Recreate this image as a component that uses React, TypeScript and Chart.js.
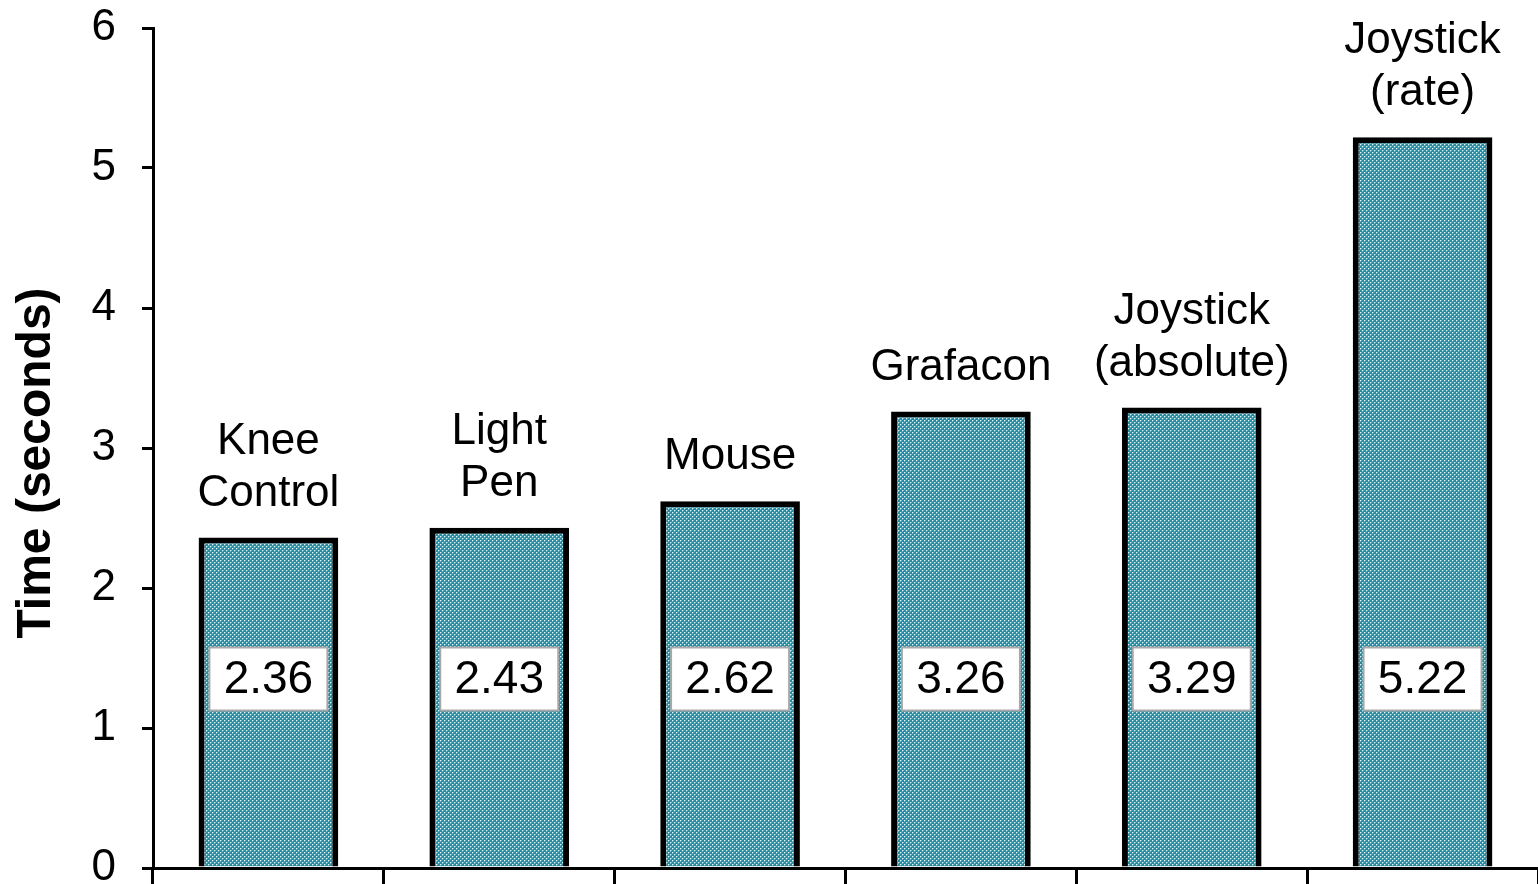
import React, { useEffect, useRef } from "react";
import { Chart, registerables } from "chart.js";

Chart.register(...registerables);

const categoryLines: string[][] = [
  ["Knee", "Control"],
  ["Light", "Pen"],
  ["Mouse"],
  ["Grafacon"],
  ["Joystick", "(absolute)"],
  ["Joystick", "(rate)"],
];
const times: number[] = [2.36, 2.43, 2.62, 3.26, 3.29, 5.22];
const valueLabels: string[] = ["2.36", "2.43", "2.62", "3.26", "3.29", "5.22"];
const yTicks: number[] = [0, 1, 2, 3, 4, 5, 6];
const yTitle = "Time (seconds)";

const FONT = "Arial, 'Liberation Sans', sans-serif";

function makePattern(): CanvasPattern | string {
  const c = document.createElement("canvas");
  c.width = 4;
  c.height = 4;
  const g = c.getContext("2d");
  if (!g) return "#4a9db0";
  g.fillStyle = "#2a8ba1";
  g.fillRect(0, 0, 4, 4);
  g.fillStyle = "#e2f3f6";
  g.fillRect(0, 0, 1, 1);
  g.fillRect(2, 2, 1, 1);
  g.fillStyle = "#6fb7c7";
  g.fillRect(1, 0, 1, 1);
  g.fillRect(3, 2, 1, 1);
  g.fillRect(0, 1, 1, 1);
  g.fillRect(2, 3, 1, 1);
  const p = g.createPattern(c, "repeat");
  return p || "#4a9db0";
}

const labelPlugin = {
  id: "barLabels",
  afterDatasetsDraw(chart: any) {
    const ctx = chart.ctx;
    const meta = chart.getDatasetMeta(0);
    const yScale = chart.scales.y;
    const area = chart.chartArea;
    ctx.save();
    meta.data.forEach((bar: any, i: number) => {
      const x = bar.x;
      ctx.fillStyle = "#000";
      ctx.font = `44px ${FONT}`;
      ctx.textAlign = "center";
      ctx.textBaseline = "middle";
      const lines = categoryLines[i];
      const lh = 52;
      const bottomY = bar.y - 44;
      lines.forEach((ln, k) => {
        ctx.fillText(ln, x, bottomY - (lines.length - 1 - k) * lh);
      });
      const cy = yScale.getPixelForValue(1.35);
      const w = 118;
      const h = 63;
      ctx.fillStyle = "#fff";
      ctx.fillRect(x - w / 2, cy - h / 2, w, h);
      ctx.strokeStyle = "#a8a8a8";
      ctx.lineWidth = 2;
      ctx.strokeRect(x - w / 2, cy - h / 2, w, h);
      ctx.fillStyle = "#000";
      ctx.font = `46px ${FONT}`;
      ctx.fillText(valueLabels[i], x, cy + 1);
    });
    ctx.save();
    ctx.translate(37, (area.top + area.bottom) / 2 + 15);
    ctx.rotate(-Math.PI / 2);
    ctx.font = `bold 48px ${FONT}`;
    ctx.fillStyle = "#000";
    ctx.textAlign = "center";
    ctx.textBaseline = "middle";
    ctx.fillText(yTitle, 0, 0);
    ctx.restore();
    ctx.restore();
  },
};

export default function App() {
  const ref = useRef<HTMLCanvasElement | null>(null);
  useEffect(() => {
    if (!ref.current) return;
    const chart = new Chart(ref.current, {
      type: "bar",
      data: {
        labels: categoryLines.map((l) => l.join(" ")),
        datasets: [
          {
            data: times,
            backgroundColor: makePattern() as any,
            borderColor: "#000",
            borderWidth: 6,
            borderSkipped: "bottom",
            categoryPercentage: 1,
            barPercentage: 0.605,
          },
        ],
      },
      options: {
        responsive: false,
        animation: false,
        devicePixelRatio: 1,
        layout: { padding: { top: 28, right: 0, left: 0, bottom: 0 } },
        plugins: {
          legend: { display: false },
          tooltip: { enabled: false },
        },
        scales: {
          x: {
            grid: {
              display: true,
              drawOnChartArea: false,
              drawTicks: true,
              tickLength: 16,
              color: "#000",
              lineWidth: 3,
              offset: true,
            },
            border: { display: true, color: "#000", width: 3 },
            ticks: { display: false },
            afterFit: (s: any) => {
              s.height = 16;
              s.paddingLeft = 0;
              s.paddingRight = 0;
            },
          },
          y: {
            min: 0,
            max: 6,
            afterBuildTicks: (s: any) => {
              s.ticks = yTicks.map((v) => ({ value: v }));
            },
            grid: {
              display: true,
              drawOnChartArea: false,
              drawTicks: true,
              tickLength: 11,
              color: "#000",
              lineWidth: 3,
            },
            border: { display: true, color: "#000", width: 3 },
            ticks: {
              color: "#000",
              padding: 26,
              font: { family: FONT, size: 44 },
            },
            afterFit: (s: any) => {
              s.width = 153;
              s.paddingTop = 0;
              s.paddingBottom = 0;
            },
          },
        },
      },
      plugins: [labelPlugin],
    });
    return () => chart.destroy();
  }, []);
  return (
    <div style={{ position: "fixed", left: 0, top: 0, width: 1538, height: 884, background: "#fff" }}>
      <canvas ref={ref} width={1538} height={884} />
    </div>
  );
}
